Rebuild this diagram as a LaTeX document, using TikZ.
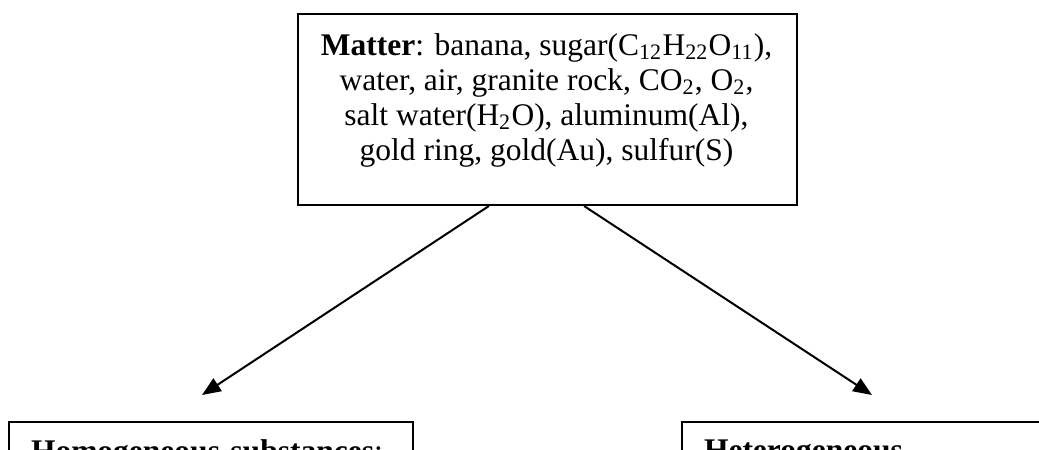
\documentclass[tikz,border=0pt]{standalone}
\usepackage{fontspec}
\setmainfont{Liberation Serif}
\usetikzlibrary{arrows.meta,calc}

\begin{document}
\begin{tikzpicture}[
  x=0.4pt, y=-0.4pt,
  font=\fontsize{12.6}{14}\selectfont,
  frame/.style={draw, line width=0.8pt, inner sep=0pt},
  leafbox/.style={draw, line width=0.8pt, anchor=north west, align=left,
    inner xsep=22*0.4pt, inner ysep=18*0.4pt, minimum width=404*0.4pt,
    text width=360*0.4pt, text depth=80*0.4pt},
  arrow/.style={line width=0.8pt, -{Triangle[length=7.5pt,width=6pt]}}
]
\useasboundingbox (0,0) rectangle (1039,449);
\clip (0,0) rectangle (1039,449);

% top node: the list of samples
\node[frame, anchor=north west, minimum width=499*0.4pt, minimum height=191*0.4pt]
  (matter) at (297,13) {};
\node[align=center, anchor=north, inner sep=0pt] (mattertext) at (546.5,33)
  {\textbf{Matter}: banana, sugar(C\textsubscript{12}H\textsubscript{22}O\textsubscript{11}),\\
   water, air, granite rock, CO\textsubscript{2}, O\textsubscript{2},\\
   salt water(H\textsubscript{2}O), aluminum(Al),\\
   gold ring, gold(Au), sulfur(S)};

% the two categories
\node[leafbox] (homo) at (8,421) {\textbf{Homogeneous substances}:};
\node[leafbox] (hetero) at (681,421) {\textbf{Heterogeneous}};

% arrow ends
\coordinate (lefttip) at (202,395);
\coordinate (righttip) at (872,395);

\draw[arrow] ($(matter.south west)!0.383!(matter.south east)$) -- (lefttip);
\draw[arrow] ($(matter.south west)!0.573!(matter.south east)$) -- (righttip);
\end{tikzpicture}
\end{document}
